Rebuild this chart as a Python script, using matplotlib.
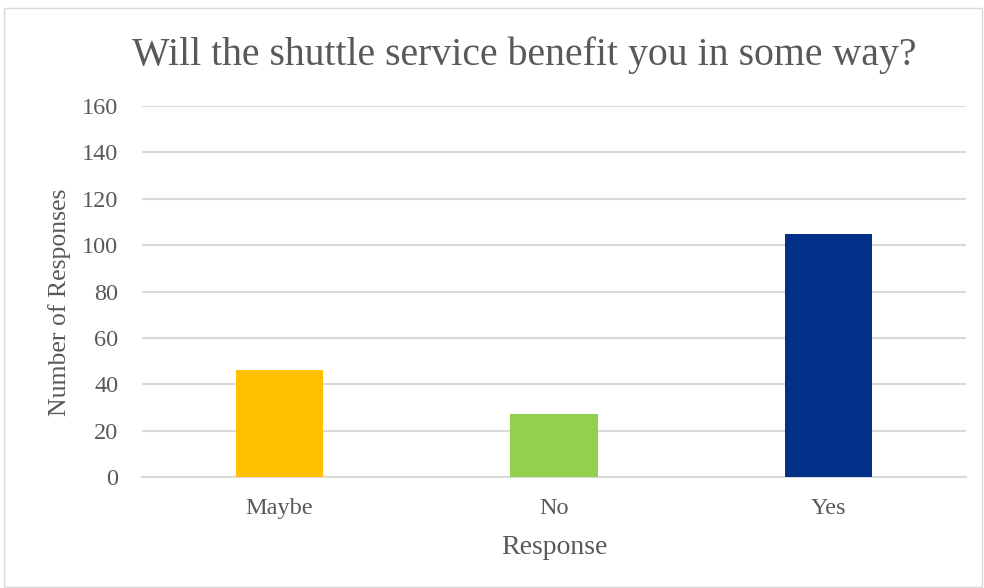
import matplotlib.pyplot as plt
from matplotlib.patches import Rectangle

categories = ['Maybe', 'No', 'Yes']
counts = [46, 27, 105]
colors = ['#FFC000', '#92D050', '#003087']
yticks = [0, 20, 40, 60, 80, 100, 120, 140, 160]

plt.rcParams['font.family'] = ['Liberation Serif', 'DejaVu Serif']
txt = '#595959'
grid = '#d9d9d9'

fig = plt.figure(figsize=(9.84, 5.88), dpi=100)
ax = fig.add_axes([142/984, 1 - 477/588, (966-142)/984, (477-106)/588])

x = range(len(categories))
ax.bar(x, counts, width=0.317, color=colors, zorder=3)

ax.set_xlim(-0.5, 2.5)
ax.set_ylim(0, 160)
ax.set_yticks(yticks)
ax.set_xticks(list(x))
ax.set_xticklabels(categories)
ax.yaxis.grid(True, color=grid, linewidth=1.5, zorder=0)
for s in ['top', 'right', 'left']:
    ax.spines[s].set_visible(False)
ax.spines['bottom'].set_color(grid)
ax.spines['bottom'].set_linewidth(1.5)
ax.tick_params(length=0, colors=txt, labelsize=17.5)
ax.tick_params(axis='x', pad=15)
ax.tick_params(axis='y', pad=17)

# axis titles and chart title placed in figure coords
fig.text(554/984, 1 - 547/588, 'Response', ha='center', va='center',
         fontsize=20, color=txt)
fig.text(60/984, 1 - 302/588, 'Number of Responses', ha='center', va='center',
         rotation=90, fontsize=18.5, color=txt)
fig.text(524/984, 1 - 55/588, 'Will the shuttle service benefit you in some way?',
         ha='center', va='center', fontsize=28.6, color=txt)

fig.patches.append(Rectangle((4/984, 1/588), 978/984, 579/588, transform=fig.transFigure,
                             fill=False, edgecolor=grid, linewidth=1))

fig.savefig('out.png', dpi=100)
